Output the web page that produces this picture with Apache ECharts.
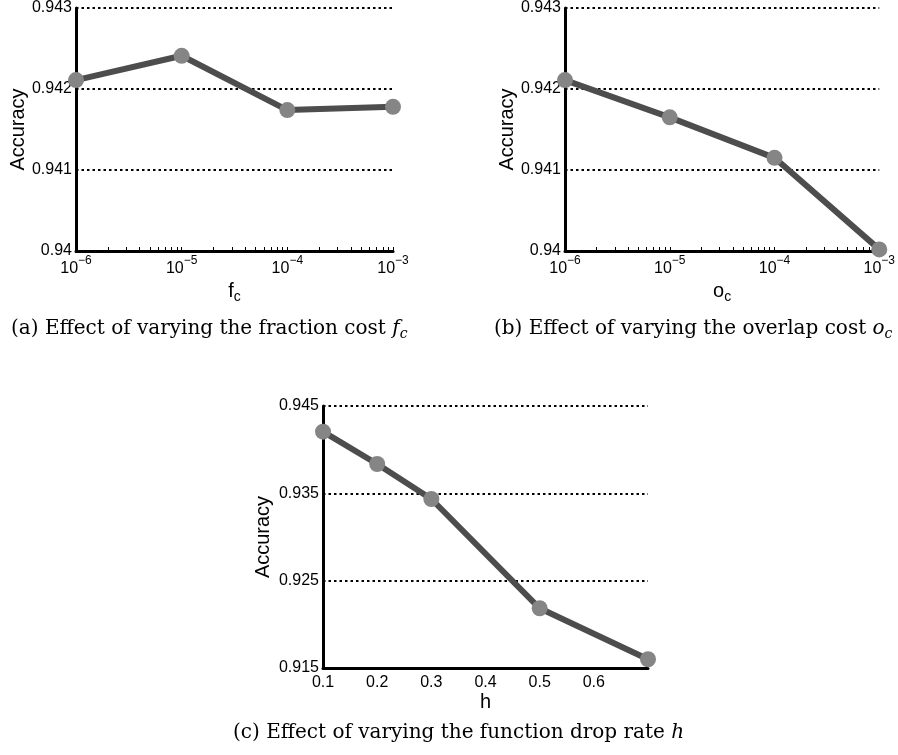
<!DOCTYPE html>
<html>
<head>
<meta charset="utf-8">
<script src="https://cdn.jsdelivr.net/npm/echarts@6/dist/echarts.min.js"></script>
<style>
html,body{margin:0;padding:0;background:#fff;}
#chart{width:898px;height:755px;}
</style>
</head>
<body>
<div id="chart"></div>
<script>
// ---- data ----
const fcValues = [1e-6, 1e-5, 1e-4, 1e-3];
const fcAccuracy = [0.94211, 0.94241, 0.94174, 0.94178];
const ocValues = [1e-6, 1e-5, 1e-4, 1e-3];
const ocAccuracy = [0.94211, 0.94165, 0.94115, 0.94002];
const hValues = [0.1, 0.2, 0.3, 0.5, 0.7];
const hAccuracy = [0.94206, 0.93836, 0.93435, 0.92184, 0.91600];
const costTicks = [1e-6, 1e-5, 1e-4, 1e-3];
const accTicksAB = [0.94, 0.941, 0.942, 0.943];
const accTicksC = [0.915, 0.925, 0.935, 0.945];
const hTicks = [0.1, 0.2, 0.3, 0.4, 0.5, 0.6];
const captions = [
  '(a) Effect of varying the fraction cost {i|f}{s|c}',
  '(b) Effect of varying the overlap cost {i|o}{s|c}',
  '(c) Effect of varying the function drop rate {i|h}'
];

// minor log ticks (axis decoration)
const minorCost = [];
for (let e = -6; e < -3; e++) {
  for (let k = 1; k <= 9; k++) minorCost.push(k * Math.pow(10, e));
}
minorCost.push(1e-3);

const chart = echarts.init(document.getElementById('chart'), null, {renderer: 'canvas'});
const sansFont = 'Liberation Sans, Arial, sans-serif';
const serifFont = 'DejaVu Serif, serif';

function yAxisFor(gridIndex, ticks, gap) {
  return {
    type: 'value', gridIndex: gridIndex,
    min: ticks[0], max: ticks[ticks.length - 1],
    interval: ticks[1] - ticks[0],
    name: 'Accuracy', nameLocation: 'middle', nameGap: gap, nameRotate: 90,
    nameTextStyle: {fontFamily: sansFont, fontSize: 20, color: '#000'},
    axisLine: {show: true, lineStyle: {color: '#000', width: 3}},
    axisTick: {show: false},
    axisLabel: {fontFamily: sansFont, fontSize: 16, color: '#000', margin: 4,
      formatter: v => String(+v.toFixed(4))},
    splitLine: {show: true, lineStyle: {color: '#000', width: 2, type: [2.5, 3]}}
  };
}

function costAxis(gridIndex, letter) {
  return {
    type: 'log', logBase: 10, gridIndex: gridIndex,
    min: costTicks[0], max: costTicks[costTicks.length - 1],
    name: '{n|' + letter + '}{s|c}', nameLocation: 'middle', nameGap: 27,
    nameTextStyle: {
      fontFamily: sansFont, color: '#000',
      rich: {
        n: {fontFamily: sansFont, fontSize: 20, color: '#000', verticalAlign: 'top', lineHeight: 22},
        s: {fontFamily: sansFont, fontSize: 14, color: '#000', verticalAlign: 'bottom', lineHeight: 22, padding: [12, 0, 0, 0]}
      }
    },
    axisLine: {show: true, onZero: false, lineStyle: {color: '#000', width: 3}},
    axisTick: {show: true, inside: true, length: 4, customValues: minorCost,
      lineStyle: {color: '#000', width: 1}},
    axisLabel: {
      customValues: costTicks, margin: 4,
      formatter: v => '{b|10}{p|\u2212' + Math.abs(Math.round(Math.log10(v))) + '}',
      rich: {
        b: {fontFamily: sansFont, fontSize: 16, color: '#000', verticalAlign: 'bottom', lineHeight: 22},
        p: {fontFamily: sansFont, fontSize: 12, color: '#000', verticalAlign: 'top', lineHeight: 22, padding: [0, 0, 9, 0]}
      }
    },
    splitLine: {show: false}
  };
}

const lineStyle = {color: '#4d4d4d', width: 6};
const itemStyle = {color: '#858585'};

function makeSeries(xi, xs, ys) {
  return {
    type: 'line', xAxisIndex: xi, yAxisIndex: xi,
    data: xs.map((x, i) => [x, ys[i]]),
    symbol: 'circle', symbolSize: 16, clip: false,
    lineStyle: lineStyle, itemStyle: itemStyle,
    emphasis: {disabled: true}, animation: false, z: 5
  };
}

const option = {
  backgroundColor: '#fff',
  animation: false,
  title: captions.map((t, i) => ({
    text: t,
    left: [11, 494, 233][i],
    top: [317, 317, 721][i],
    padding: 0,
    textStyle: {
      fontFamily: serifFont, fontSize: 20, fontWeight: 'normal', color: '#000',
      lineHeight: 24,
      rich: {
        i: {fontFamily: serifFont, fontSize: 20, fontStyle: 'italic', color: '#000', verticalAlign: 'middle', lineHeight: 24},
        s: {fontFamily: serifFont, fontSize: 14, fontStyle: 'italic', color: '#000', verticalAlign: 'bottom', lineHeight: 24, padding: [8, 0, 0, 0]}
      }
    }
  })),
  grid: [
    {left: 76, top: 8, width: 317, height: 243},
    {left: 565, top: 8, width: 317, height: 243},
    {left: 323, top: 406, width: 325, height: 262}
  ],
  xAxis: [
    costAxis(0, 'f'),
    costAxis(1, 'o'),
    {
      type: 'value', gridIndex: 2,
      min: 0.1, max: 0.7, interval: 0.1,
      name: 'h', nameLocation: 'middle', nameGap: 24,
      nameTextStyle: {fontFamily: sansFont, fontSize: 20, color: '#000'},
      axisLine: {show: true, onZero: false, lineStyle: {color: '#000', width: 3}},
      axisTick: {show: false},
      axisLabel: {customValues: hTicks, fontFamily: sansFont, fontSize: 16, color: '#000', margin: 7,
        formatter: v => String(+v.toFixed(2))},
      splitLine: {show: false}
    }
  ],
  yAxis: [
    yAxisFor(0, accTicksAB, 48),
    yAxisFor(1, accTicksAB, 48),
    yAxisFor(2, accTicksC, 50)
  ],
  series: [
    makeSeries(0, fcValues, fcAccuracy),
    makeSeries(1, ocValues, ocAccuracy),
    makeSeries(2, hValues, hAccuracy)
  ]
};
chart.setOption(option);
</script>
</body>
</html>
